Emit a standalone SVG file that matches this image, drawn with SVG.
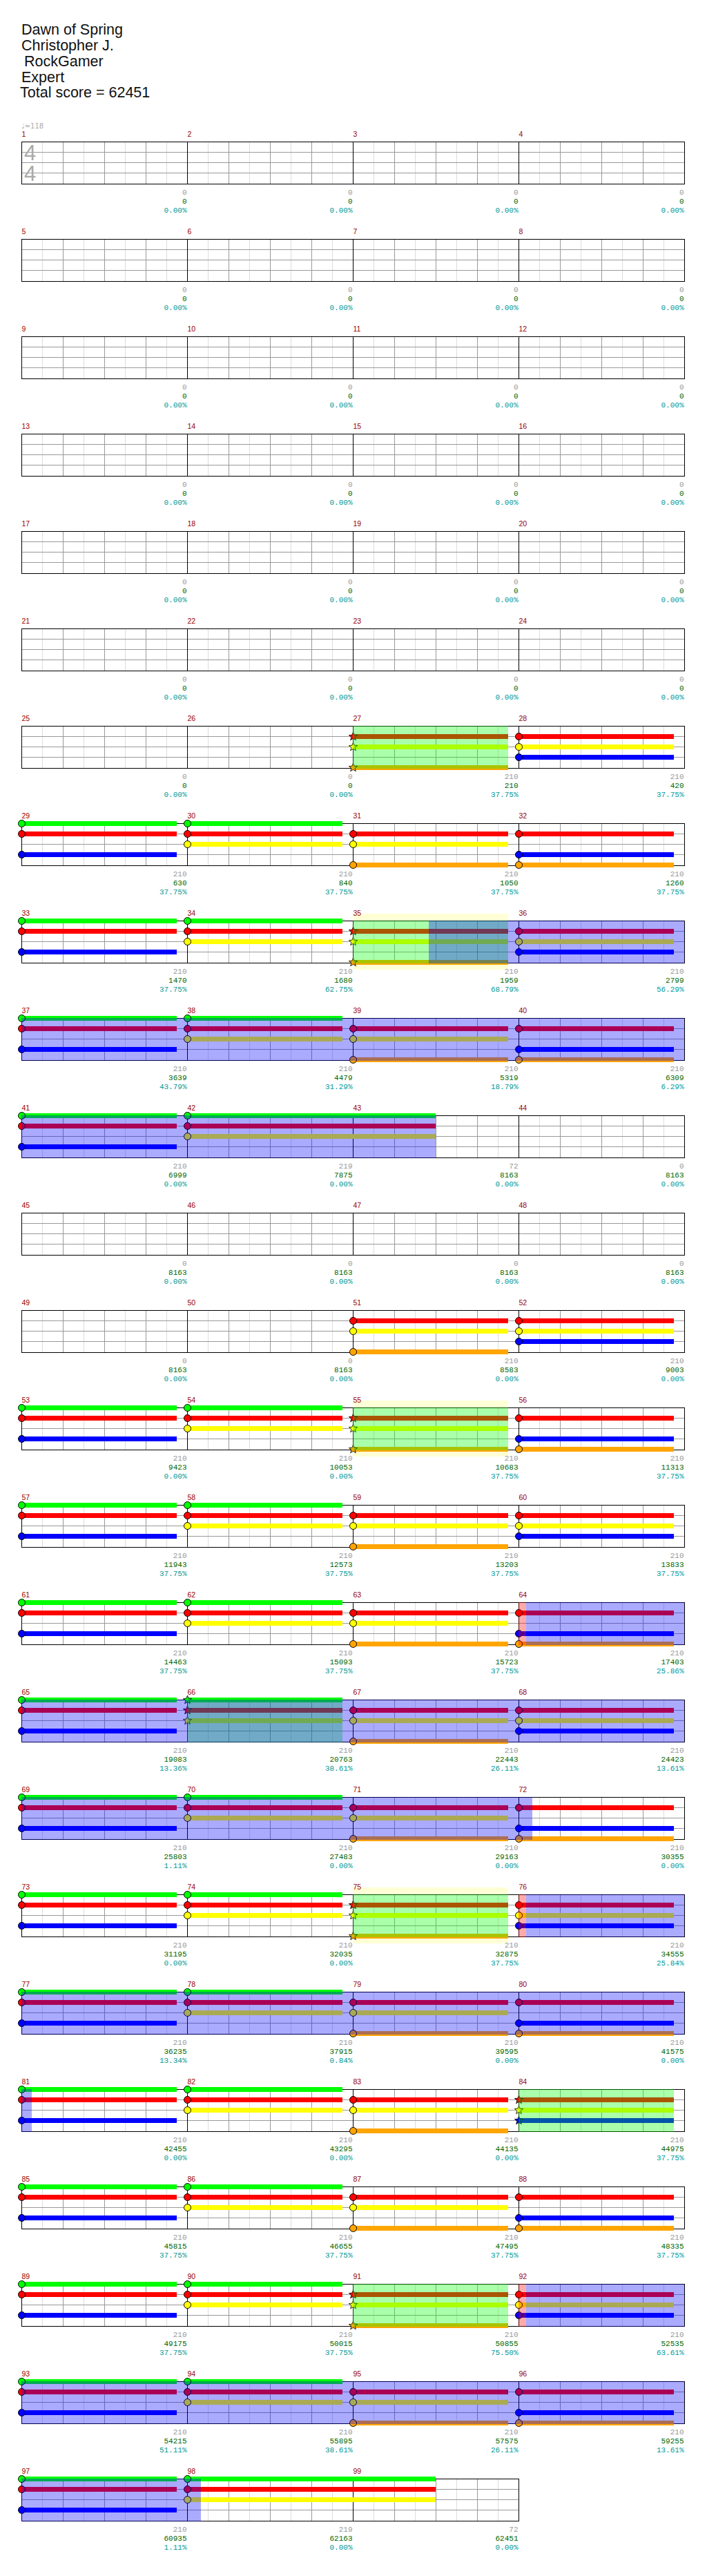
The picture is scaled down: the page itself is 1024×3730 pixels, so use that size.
<svg xmlns="http://www.w3.org/2000/svg" width="1024" height="3730" viewBox="0 0 1024 3730">
<style>
.t{font-family:"Liberation Sans",Arial,sans-serif;font-size:21.5px;fill:#111}
.n{font-family:"Liberation Sans",Arial,sans-serif;font-size:10.5px;fill:#900}
.v{font-family:"Liberation Mono","Courier New",monospace;font-size:11px;text-anchor:end}
.a{fill:#999}.b{fill:#060}.c{fill:#099}
.ts{font-family:"Liberation Sans",Arial,sans-serif;font-size:31px;fill:#aaa}
.tp{font-family:"DejaVu Sans",sans-serif;font-size:10px;fill:#aaa}
.lt{stroke:#ddd;stroke-width:1;fill:none}
.dk{stroke:#999;stroke-width:1;fill:none}
.bk{stroke:#000;stroke-width:1;fill:none}
.sp{fill:#0f0;fill-opacity:.333}
.ac{fill:#00f;fill-opacity:.333}
.pk{fill:#f00;fill-opacity:.333}
.yb{fill:#ffffd5}
.h{stroke:#000;stroke-width:1}
</style>
<defs>
<g id="m">
<rect x="0" y="0" width="240" height="62" fill="#fff"/>
<path class="lt" d="M30.5 0V61M90.5 0V61M150.5 0V61M210.5 0V61"/>
<path class="dk" d="M60.5 0V61M120.5 0V61M180.5 0V61M0 15.5H240M0 30.5H240M0 45.5H240"/>
<path class="bk" d="M0 0.5H240M0 61.5H240M0.5 0V62"/>
</g>
<g id="r4"><use href="#m" x="31"/><use href="#m" x="271"/><use href="#m" x="511"/><use href="#m" x="751"/><path class="bk" d="M991.5 0V62"/></g>
<g id="r3"><use href="#m" x="31"/><use href="#m" x="271"/><use href="#m" x="511"/><path class="bk" d="M751.5 0V62"/></g>
<polygon id="st" points="0,-6.5 1.65,-2.27 6.18,-2.01 2.66,0.87 3.82,5.26 0,2.8 -3.82,5.26 -2.66,0.87 -6.18,-2.01 -1.65,-2.27" stroke="#000" stroke-width="0.8"/>
<g id="G"><rect x="0.5" y="-3" width="224.5" height="7" fill="#0f0"/><circle class="h" cx="0.5" cy="0.5" r="5" fill="#0f0"/></g>
<g id="R"><rect x="0.5" y="12" width="224.5" height="7" fill="#f00"/><circle class="h" cx="0.5" cy="15.5" r="5" fill="#f00"/></g>
<g id="Y"><rect x="0.5" y="27" width="224.5" height="7" fill="#ff0"/><circle class="h" cx="0.5" cy="30.5" r="5" fill="#ff0"/></g>
<g id="B"><rect x="0.5" y="42" width="224.5" height="7" fill="#00f"/><circle class="h" cx="0.5" cy="45.5" r="5" fill="#00f"/></g>
<g id="O"><rect x="0.5" y="57" width="224.5" height="7" fill="#ffa500"/><circle class="h" cx="0.5" cy="60.5" r="5" fill="#ffa500"/></g>
<g id="GL"><rect x="0.5" y="-3" width="359.5" height="7" fill="#0f0"/><circle class="h" cx="0.5" cy="0.5" r="5" fill="#0f0"/></g>
<g id="RL"><rect x="0.5" y="12" width="359.5" height="7" fill="#f00"/><circle class="h" cx="0.5" cy="15.5" r="5" fill="#f00"/></g>
<g id="YL"><rect x="0.5" y="27" width="359.5" height="7" fill="#ff0"/><circle class="h" cx="0.5" cy="30.5" r="5" fill="#ff0"/></g>
<g id="SG"><rect x="0.5" y="-3" width="224.5" height="7" fill="#0f0"/><use href="#st" x="0.5" y="0.5" fill="#0f0"/></g>
<g id="SR"><rect x="0.5" y="12" width="224.5" height="7" fill="#f00"/><use href="#st" x="0.5" y="15.5" fill="#f00"/></g>
<g id="SY"><rect x="0.5" y="27" width="224.5" height="7" fill="#ff0"/><use href="#st" x="0.5" y="30.5" fill="#ff0"/></g>
<g id="SB"><rect x="0.5" y="42" width="224.5" height="7" fill="#00f"/><use href="#st" x="0.5" y="45.5" fill="#00f"/></g>
<g id="SO"><rect x="0.5" y="57" width="224.5" height="7" fill="#ffa500"/><use href="#st" x="0.5" y="60.5" fill="#ffa500"/></g>
<g id="GRB"><use href="#G"/><use href="#R"/><use href="#B"/></g>
<g id="GRY"><use href="#G"/><use href="#R"/><use href="#Y"/></g>
<g id="RYO"><use href="#R"/><use href="#Y"/><use href="#O"/></g>
<g id="RBO"><use href="#R"/><use href="#B"/><use href="#O"/></g>
<g id="RYB"><use href="#R"/><use href="#Y"/><use href="#B"/></g>
<g id="GRYL"><use href="#GL"/><use href="#RL"/><use href="#YL"/></g>
<g id="sRYO"><use href="#SR"/><use href="#SY"/><use href="#SO"/></g>
<g id="sGRY"><use href="#SG"/><use href="#SR"/><use href="#SY"/></g>
<g id="sRYB"><use href="#SR"/><use href="#SY"/><use href="#SB"/></g>
</defs>
<rect width="1024" height="3730" fill="#fff"/>
<g id="header">
<text class="t" x="31" y="50">Dawn of Spring</text>
<text class="t" x="31" y="72.5">Christopher J.</text>
<text class="t" x="35" y="96">RockGamer</text>
<text class="t" x="31" y="118.5">Expert</text>
<text class="t" x="29" y="141">Total score = 62451</text>
</g>

<g id="row1" transform="translate(0,205)">
<use href="#r4"/>
<text class="ts" x="35" y="26.7">4</text><text class="ts" x="35" y="56.7">4</text>
<text class="tp" x="31" y="-19">♩=118</text>
<text class="n" x="31.5" y="-7">1</text><text class="n" x="271.5" y="-7">2</text><text class="n" x="511.5" y="-7">3</text><text class="n" x="751.5" y="-7">4</text>
<text class="v" x="270.5" y="77"><tspan class="a">0</tspan><tspan class="b" x="270.5" dy="13">0</tspan><tspan class="c" x="270.5" dy="13">0.00%</tspan></text>
<text class="v" x="510.5" y="77"><tspan class="a">0</tspan><tspan class="b" x="510.5" dy="13">0</tspan><tspan class="c" x="510.5" dy="13">0.00%</tspan></text>
<text class="v" x="750.5" y="77"><tspan class="a">0</tspan><tspan class="b" x="750.5" dy="13">0</tspan><tspan class="c" x="750.5" dy="13">0.00%</tspan></text>
<text class="v" x="990.5" y="77"><tspan class="a">0</tspan><tspan class="b" x="990.5" dy="13">0</tspan><tspan class="c" x="990.5" dy="13">0.00%</tspan></text>
</g>

<g id="row2" transform="translate(0,346)">
<use href="#r4"/>
<text class="n" x="31.5" y="-7">5</text><text class="n" x="271.5" y="-7">6</text><text class="n" x="511.5" y="-7">7</text><text class="n" x="751.5" y="-7">8</text>
<text class="v" x="270.5" y="77"><tspan class="a">0</tspan><tspan class="b" x="270.5" dy="13">0</tspan><tspan class="c" x="270.5" dy="13">0.00%</tspan></text>
<text class="v" x="510.5" y="77"><tspan class="a">0</tspan><tspan class="b" x="510.5" dy="13">0</tspan><tspan class="c" x="510.5" dy="13">0.00%</tspan></text>
<text class="v" x="750.5" y="77"><tspan class="a">0</tspan><tspan class="b" x="750.5" dy="13">0</tspan><tspan class="c" x="750.5" dy="13">0.00%</tspan></text>
<text class="v" x="990.5" y="77"><tspan class="a">0</tspan><tspan class="b" x="990.5" dy="13">0</tspan><tspan class="c" x="990.5" dy="13">0.00%</tspan></text>
</g>

<g id="row3" transform="translate(0,487)">
<use href="#r4"/>
<text class="n" x="31.5" y="-7">9</text><text class="n" x="271.5" y="-7">10</text><text class="n" x="511.5" y="-7">11</text><text class="n" x="751.5" y="-7">12</text>
<text class="v" x="270.5" y="77"><tspan class="a">0</tspan><tspan class="b" x="270.5" dy="13">0</tspan><tspan class="c" x="270.5" dy="13">0.00%</tspan></text>
<text class="v" x="510.5" y="77"><tspan class="a">0</tspan><tspan class="b" x="510.5" dy="13">0</tspan><tspan class="c" x="510.5" dy="13">0.00%</tspan></text>
<text class="v" x="750.5" y="77"><tspan class="a">0</tspan><tspan class="b" x="750.5" dy="13">0</tspan><tspan class="c" x="750.5" dy="13">0.00%</tspan></text>
<text class="v" x="990.5" y="77"><tspan class="a">0</tspan><tspan class="b" x="990.5" dy="13">0</tspan><tspan class="c" x="990.5" dy="13">0.00%</tspan></text>
</g>

<g id="row4" transform="translate(0,628)">
<use href="#r4"/>
<text class="n" x="31.5" y="-7">13</text><text class="n" x="271.5" y="-7">14</text><text class="n" x="511.5" y="-7">15</text><text class="n" x="751.5" y="-7">16</text>
<text class="v" x="270.5" y="77"><tspan class="a">0</tspan><tspan class="b" x="270.5" dy="13">0</tspan><tspan class="c" x="270.5" dy="13">0.00%</tspan></text>
<text class="v" x="510.5" y="77"><tspan class="a">0</tspan><tspan class="b" x="510.5" dy="13">0</tspan><tspan class="c" x="510.5" dy="13">0.00%</tspan></text>
<text class="v" x="750.5" y="77"><tspan class="a">0</tspan><tspan class="b" x="750.5" dy="13">0</tspan><tspan class="c" x="750.5" dy="13">0.00%</tspan></text>
<text class="v" x="990.5" y="77"><tspan class="a">0</tspan><tspan class="b" x="990.5" dy="13">0</tspan><tspan class="c" x="990.5" dy="13">0.00%</tspan></text>
</g>

<g id="row5" transform="translate(0,769)">
<use href="#r4"/>
<text class="n" x="31.5" y="-7">17</text><text class="n" x="271.5" y="-7">18</text><text class="n" x="511.5" y="-7">19</text><text class="n" x="751.5" y="-7">20</text>
<text class="v" x="270.5" y="77"><tspan class="a">0</tspan><tspan class="b" x="270.5" dy="13">0</tspan><tspan class="c" x="270.5" dy="13">0.00%</tspan></text>
<text class="v" x="510.5" y="77"><tspan class="a">0</tspan><tspan class="b" x="510.5" dy="13">0</tspan><tspan class="c" x="510.5" dy="13">0.00%</tspan></text>
<text class="v" x="750.5" y="77"><tspan class="a">0</tspan><tspan class="b" x="750.5" dy="13">0</tspan><tspan class="c" x="750.5" dy="13">0.00%</tspan></text>
<text class="v" x="990.5" y="77"><tspan class="a">0</tspan><tspan class="b" x="990.5" dy="13">0</tspan><tspan class="c" x="990.5" dy="13">0.00%</tspan></text>
</g>

<g id="row6" transform="translate(0,910)">
<use href="#r4"/>
<text class="n" x="31.5" y="-7">21</text><text class="n" x="271.5" y="-7">22</text><text class="n" x="511.5" y="-7">23</text><text class="n" x="751.5" y="-7">24</text>
<text class="v" x="270.5" y="77"><tspan class="a">0</tspan><tspan class="b" x="270.5" dy="13">0</tspan><tspan class="c" x="270.5" dy="13">0.00%</tspan></text>
<text class="v" x="510.5" y="77"><tspan class="a">0</tspan><tspan class="b" x="510.5" dy="13">0</tspan><tspan class="c" x="510.5" dy="13">0.00%</tspan></text>
<text class="v" x="750.5" y="77"><tspan class="a">0</tspan><tspan class="b" x="750.5" dy="13">0</tspan><tspan class="c" x="750.5" dy="13">0.00%</tspan></text>
<text class="v" x="990.5" y="77"><tspan class="a">0</tspan><tspan class="b" x="990.5" dy="13">0</tspan><tspan class="c" x="990.5" dy="13">0.00%</tspan></text>
</g>

<g id="row7" transform="translate(0,1051)">
<use href="#r4"/>
<use href="#sRYO" x="511"/><use href="#RYB" x="751"/>
<rect class="sp" x="511" y="0" width="225" height="62"/>
<text class="n" x="31.5" y="-7">25</text><text class="n" x="271.5" y="-7">26</text><text class="n" x="511.5" y="-7">27</text><text class="n" x="751.5" y="-7">28</text>
<text class="v" x="270.5" y="77"><tspan class="a">0</tspan><tspan class="b" x="270.5" dy="13">0</tspan><tspan class="c" x="270.5" dy="13">0.00%</tspan></text>
<text class="v" x="510.5" y="77"><tspan class="a">0</tspan><tspan class="b" x="510.5" dy="13">0</tspan><tspan class="c" x="510.5" dy="13">0.00%</tspan></text>
<text class="v" x="750.5" y="77"><tspan class="a">210</tspan><tspan class="b" x="750.5" dy="13">210</tspan><tspan class="c" x="750.5" dy="13">37.75%</tspan></text>
<text class="v" x="990.5" y="77"><tspan class="a">210</tspan><tspan class="b" x="990.5" dy="13">420</tspan><tspan class="c" x="990.5" dy="13">37.75%</tspan></text>
</g>

<g id="row8" transform="translate(0,1192)">
<use href="#r4"/>
<use href="#GRB" x="31"/><use href="#GRY" x="271"/><use href="#RYO" x="511"/><use href="#RBO" x="751"/>
<text class="n" x="31.5" y="-7">29</text><text class="n" x="271.5" y="-7">30</text><text class="n" x="511.5" y="-7">31</text><text class="n" x="751.5" y="-7">32</text>
<text class="v" x="270.5" y="77"><tspan class="a">210</tspan><tspan class="b" x="270.5" dy="13">630</tspan><tspan class="c" x="270.5" dy="13">37.75%</tspan></text>
<text class="v" x="510.5" y="77"><tspan class="a">210</tspan><tspan class="b" x="510.5" dy="13">840</tspan><tspan class="c" x="510.5" dy="13">37.75%</tspan></text>
<text class="v" x="750.5" y="77"><tspan class="a">210</tspan><tspan class="b" x="750.5" dy="13">1050</tspan><tspan class="c" x="750.5" dy="13">37.75%</tspan></text>
<text class="v" x="990.5" y="77"><tspan class="a">210</tspan><tspan class="b" x="990.5" dy="13">1260</tspan><tspan class="c" x="990.5" dy="13">37.75%</tspan></text>
</g>

<g id="row9" transform="translate(0,1333)">
<rect class="yb" x="511" y="-10" width="225" height="81"/>
<use href="#r4"/>
<use href="#GRB" x="31"/><use href="#GRY" x="271"/><use href="#sRYO" x="511"/><use href="#RYB" x="751"/>
<rect class="sp" x="511" y="0" width="225" height="62"/>
<rect class="ac" x="621" y="0" width="370" height="62"/>
<text class="n" x="31.5" y="-7">33</text><text class="n" x="271.5" y="-7">34</text><text class="n" x="511.5" y="-7">35</text><text class="n" x="751.5" y="-7">36</text>
<text class="v" x="270.5" y="77"><tspan class="a">210</tspan><tspan class="b" x="270.5" dy="13">1470</tspan><tspan class="c" x="270.5" dy="13">37.75%</tspan></text>
<text class="v" x="510.5" y="77"><tspan class="a">210</tspan><tspan class="b" x="510.5" dy="13">1680</tspan><tspan class="c" x="510.5" dy="13">62.75%</tspan></text>
<text class="v" x="750.5" y="77"><tspan class="a">210</tspan><tspan class="b" x="750.5" dy="13">1959</tspan><tspan class="c" x="750.5" dy="13">68.79%</tspan></text>
<text class="v" x="990.5" y="77"><tspan class="a">210</tspan><tspan class="b" x="990.5" dy="13">2799</tspan><tspan class="c" x="990.5" dy="13">56.29%</tspan></text>
</g>

<g id="row10" transform="translate(0,1474)">
<use href="#r4"/>
<use href="#GRB" x="31"/><use href="#GRY" x="271"/><use href="#RYO" x="511"/><use href="#RBO" x="751"/>
<rect class="ac" x="31" y="0" width="960" height="62"/>
<text class="n" x="31.5" y="-7">37</text><text class="n" x="271.5" y="-7">38</text><text class="n" x="511.5" y="-7">39</text><text class="n" x="751.5" y="-7">40</text>
<text class="v" x="270.5" y="77"><tspan class="a">210</tspan><tspan class="b" x="270.5" dy="13">3639</tspan><tspan class="c" x="270.5" dy="13">43.79%</tspan></text>
<text class="v" x="510.5" y="77"><tspan class="a">210</tspan><tspan class="b" x="510.5" dy="13">4479</tspan><tspan class="c" x="510.5" dy="13">31.29%</tspan></text>
<text class="v" x="750.5" y="77"><tspan class="a">210</tspan><tspan class="b" x="750.5" dy="13">5319</tspan><tspan class="c" x="750.5" dy="13">18.79%</tspan></text>
<text class="v" x="990.5" y="77"><tspan class="a">210</tspan><tspan class="b" x="990.5" dy="13">6309</tspan><tspan class="c" x="990.5" dy="13">6.29%</tspan></text>
</g>

<g id="row11" transform="translate(0,1615)">
<use href="#r4"/>
<use href="#GRB" x="31"/><use href="#GRYL" x="271"/>
<rect class="ac" x="31" y="0" width="600" height="62"/>
<text class="n" x="31.5" y="-7">41</text><text class="n" x="271.5" y="-7">42</text><text class="n" x="511.5" y="-7">43</text><text class="n" x="751.5" y="-7">44</text>
<text class="v" x="270.5" y="77"><tspan class="a">210</tspan><tspan class="b" x="270.5" dy="13">6999</tspan><tspan class="c" x="270.5" dy="13">0.00%</tspan></text>
<text class="v" x="510.5" y="77"><tspan class="a">219</tspan><tspan class="b" x="510.5" dy="13">7875</tspan><tspan class="c" x="510.5" dy="13">0.00%</tspan></text>
<text class="v" x="750.5" y="77"><tspan class="a">72</tspan><tspan class="b" x="750.5" dy="13">8163</tspan><tspan class="c" x="750.5" dy="13">0.00%</tspan></text>
<text class="v" x="990.5" y="77"><tspan class="a">0</tspan><tspan class="b" x="990.5" dy="13">8163</tspan><tspan class="c" x="990.5" dy="13">0.00%</tspan></text>
</g>

<g id="row12" transform="translate(0,1756)">
<use href="#r4"/>
<text class="n" x="31.5" y="-7">45</text><text class="n" x="271.5" y="-7">46</text><text class="n" x="511.5" y="-7">47</text><text class="n" x="751.5" y="-7">48</text>
<text class="v" x="270.5" y="77"><tspan class="a">0</tspan><tspan class="b" x="270.5" dy="13">8163</tspan><tspan class="c" x="270.5" dy="13">0.00%</tspan></text>
<text class="v" x="510.5" y="77"><tspan class="a">0</tspan><tspan class="b" x="510.5" dy="13">8163</tspan><tspan class="c" x="510.5" dy="13">0.00%</tspan></text>
<text class="v" x="750.5" y="77"><tspan class="a">0</tspan><tspan class="b" x="750.5" dy="13">8163</tspan><tspan class="c" x="750.5" dy="13">0.00%</tspan></text>
<text class="v" x="990.5" y="77"><tspan class="a">0</tspan><tspan class="b" x="990.5" dy="13">8163</tspan><tspan class="c" x="990.5" dy="13">0.00%</tspan></text>
</g>

<g id="row13" transform="translate(0,1897)">
<use href="#r4"/>
<use href="#RYO" x="511"/><use href="#RYB" x="751"/>
<text class="n" x="31.5" y="-7">49</text><text class="n" x="271.5" y="-7">50</text><text class="n" x="511.5" y="-7">51</text><text class="n" x="751.5" y="-7">52</text>
<text class="v" x="270.5" y="77"><tspan class="a">0</tspan><tspan class="b" x="270.5" dy="13">8163</tspan><tspan class="c" x="270.5" dy="13">0.00%</tspan></text>
<text class="v" x="510.5" y="77"><tspan class="a">0</tspan><tspan class="b" x="510.5" dy="13">8163</tspan><tspan class="c" x="510.5" dy="13">0.00%</tspan></text>
<text class="v" x="750.5" y="77"><tspan class="a">210</tspan><tspan class="b" x="750.5" dy="13">8583</tspan><tspan class="c" x="750.5" dy="13">0.00%</tspan></text>
<text class="v" x="990.5" y="77"><tspan class="a">210</tspan><tspan class="b" x="990.5" dy="13">9003</tspan><tspan class="c" x="990.5" dy="13">0.00%</tspan></text>
</g>

<g id="row14" transform="translate(0,2038)">
<rect class="yb" x="511" y="-10" width="225" height="81"/>
<use href="#r4"/>
<use href="#GRB" x="31"/><use href="#GRY" x="271"/><use href="#sRYO" x="511"/><use href="#RBO" x="751"/>
<rect class="sp" x="511" y="0" width="225" height="62"/>
<text class="n" x="31.5" y="-7">53</text><text class="n" x="271.5" y="-7">54</text><text class="n" x="511.5" y="-7">55</text><text class="n" x="751.5" y="-7">56</text>
<text class="v" x="270.5" y="77"><tspan class="a">210</tspan><tspan class="b" x="270.5" dy="13">9423</tspan><tspan class="c" x="270.5" dy="13">0.00%</tspan></text>
<text class="v" x="510.5" y="77"><tspan class="a">210</tspan><tspan class="b" x="510.5" dy="13">10053</tspan><tspan class="c" x="510.5" dy="13">0.00%</tspan></text>
<text class="v" x="750.5" y="77"><tspan class="a">210</tspan><tspan class="b" x="750.5" dy="13">10683</tspan><tspan class="c" x="750.5" dy="13">37.75%</tspan></text>
<text class="v" x="990.5" y="77"><tspan class="a">210</tspan><tspan class="b" x="990.5" dy="13">11313</tspan><tspan class="c" x="990.5" dy="13">37.75%</tspan></text>
</g>

<g id="row15" transform="translate(0,2179)">
<use href="#r4"/>
<use href="#GRB" x="31"/><use href="#GRY" x="271"/><use href="#RYO" x="511"/><use href="#RYB" x="751"/>
<text class="n" x="31.5" y="-7">57</text><text class="n" x="271.5" y="-7">58</text><text class="n" x="511.5" y="-7">59</text><text class="n" x="751.5" y="-7">60</text>
<text class="v" x="270.5" y="77"><tspan class="a">210</tspan><tspan class="b" x="270.5" dy="13">11943</tspan><tspan class="c" x="270.5" dy="13">37.75%</tspan></text>
<text class="v" x="510.5" y="77"><tspan class="a">210</tspan><tspan class="b" x="510.5" dy="13">12573</tspan><tspan class="c" x="510.5" dy="13">37.75%</tspan></text>
<text class="v" x="750.5" y="77"><tspan class="a">210</tspan><tspan class="b" x="750.5" dy="13">13203</tspan><tspan class="c" x="750.5" dy="13">37.75%</tspan></text>
<text class="v" x="990.5" y="77"><tspan class="a">210</tspan><tspan class="b" x="990.5" dy="13">13833</tspan><tspan class="c" x="990.5" dy="13">37.75%</tspan></text>
</g>

<g id="row16" transform="translate(0,2320)">
<use href="#r4"/>
<use href="#GRB" x="31"/><use href="#GRY" x="271"/><use href="#RYO" x="511"/><use href="#RBO" x="751"/>
<rect class="pk" x="751" y="0" width="11" height="62"/>
<rect class="ac" x="762" y="0" width="229" height="62"/>
<text class="n" x="31.5" y="-7">61</text><text class="n" x="271.5" y="-7">62</text><text class="n" x="511.5" y="-7">63</text><text class="n" x="751.5" y="-7">64</text>
<text class="v" x="270.5" y="77"><tspan class="a">210</tspan><tspan class="b" x="270.5" dy="13">14463</tspan><tspan class="c" x="270.5" dy="13">37.75%</tspan></text>
<text class="v" x="510.5" y="77"><tspan class="a">210</tspan><tspan class="b" x="510.5" dy="13">15093</tspan><tspan class="c" x="510.5" dy="13">37.75%</tspan></text>
<text class="v" x="750.5" y="77"><tspan class="a">210</tspan><tspan class="b" x="750.5" dy="13">15723</tspan><tspan class="c" x="750.5" dy="13">37.75%</tspan></text>
<text class="v" x="990.5" y="77"><tspan class="a">210</tspan><tspan class="b" x="990.5" dy="13">17403</tspan><tspan class="c" x="990.5" dy="13">25.86%</tspan></text>
</g>

<g id="row17" transform="translate(0,2461)">
<use href="#r4"/>
<use href="#GRB" x="31"/><use href="#sGRY" x="271"/><use href="#RYO" x="511"/><use href="#RYB" x="751"/>
<rect class="sp" x="271" y="0" width="225" height="62"/>
<rect class="ac" x="31" y="0" width="960" height="62"/>
<text class="n" x="31.5" y="-7">65</text><text class="n" x="271.5" y="-7">66</text><text class="n" x="511.5" y="-7">67</text><text class="n" x="751.5" y="-7">68</text>
<text class="v" x="270.5" y="77"><tspan class="a">210</tspan><tspan class="b" x="270.5" dy="13">19083</tspan><tspan class="c" x="270.5" dy="13">13.36%</tspan></text>
<text class="v" x="510.5" y="77"><tspan class="a">210</tspan><tspan class="b" x="510.5" dy="13">20763</tspan><tspan class="c" x="510.5" dy="13">38.61%</tspan></text>
<text class="v" x="750.5" y="77"><tspan class="a">210</tspan><tspan class="b" x="750.5" dy="13">22443</tspan><tspan class="c" x="750.5" dy="13">26.11%</tspan></text>
<text class="v" x="990.5" y="77"><tspan class="a">210</tspan><tspan class="b" x="990.5" dy="13">24423</tspan><tspan class="c" x="990.5" dy="13">13.61%</tspan></text>
</g>

<g id="row18" transform="translate(0,2602)">
<use href="#r4"/>
<use href="#GRB" x="31"/><use href="#GRY" x="271"/><use href="#RYO" x="511"/><use href="#RBO" x="751"/>
<rect class="ac" x="31" y="0" width="740" height="62"/>
<text class="n" x="31.5" y="-7">69</text><text class="n" x="271.5" y="-7">70</text><text class="n" x="511.5" y="-7">71</text><text class="n" x="751.5" y="-7">72</text>
<text class="v" x="270.5" y="77"><tspan class="a">210</tspan><tspan class="b" x="270.5" dy="13">25803</tspan><tspan class="c" x="270.5" dy="13">1.11%</tspan></text>
<text class="v" x="510.5" y="77"><tspan class="a">210</tspan><tspan class="b" x="510.5" dy="13">27483</tspan><tspan class="c" x="510.5" dy="13">0.00%</tspan></text>
<text class="v" x="750.5" y="77"><tspan class="a">210</tspan><tspan class="b" x="750.5" dy="13">29163</tspan><tspan class="c" x="750.5" dy="13">0.00%</tspan></text>
<text class="v" x="990.5" y="77"><tspan class="a">210</tspan><tspan class="b" x="990.5" dy="13">30355</tspan><tspan class="c" x="990.5" dy="13">0.00%</tspan></text>
</g>

<g id="row19" transform="translate(0,2743)">
<rect class="yb" x="511" y="-10" width="225" height="81"/>
<use href="#r4"/>
<use href="#GRB" x="31"/><use href="#GRY" x="271"/><use href="#sRYO" x="511"/><use href="#RYB" x="751"/>
<rect class="sp" x="511" y="0" width="225" height="62"/>
<rect class="pk" x="751" y="0" width="11" height="62"/>
<rect class="ac" x="762" y="0" width="229" height="62"/>
<text class="n" x="31.5" y="-7">73</text><text class="n" x="271.5" y="-7">74</text><text class="n" x="511.5" y="-7">75</text><text class="n" x="751.5" y="-7">76</text>
<text class="v" x="270.5" y="77"><tspan class="a">210</tspan><tspan class="b" x="270.5" dy="13">31195</tspan><tspan class="c" x="270.5" dy="13">0.00%</tspan></text>
<text class="v" x="510.5" y="77"><tspan class="a">210</tspan><tspan class="b" x="510.5" dy="13">32035</tspan><tspan class="c" x="510.5" dy="13">0.00%</tspan></text>
<text class="v" x="750.5" y="77"><tspan class="a">210</tspan><tspan class="b" x="750.5" dy="13">32875</tspan><tspan class="c" x="750.5" dy="13">37.75%</tspan></text>
<text class="v" x="990.5" y="77"><tspan class="a">210</tspan><tspan class="b" x="990.5" dy="13">34555</tspan><tspan class="c" x="990.5" dy="13">25.84%</tspan></text>
</g>

<g id="row20" transform="translate(0,2884)">
<use href="#r4"/>
<use href="#GRB" x="31"/><use href="#GRY" x="271"/><use href="#RYO" x="511"/><use href="#RBO" x="751"/>
<rect class="ac" x="31" y="0" width="960" height="62"/>
<text class="n" x="31.5" y="-7">77</text><text class="n" x="271.5" y="-7">78</text><text class="n" x="511.5" y="-7">79</text><text class="n" x="751.5" y="-7">80</text>
<text class="v" x="270.5" y="77"><tspan class="a">210</tspan><tspan class="b" x="270.5" dy="13">36235</tspan><tspan class="c" x="270.5" dy="13">13.34%</tspan></text>
<text class="v" x="510.5" y="77"><tspan class="a">210</tspan><tspan class="b" x="510.5" dy="13">37915</tspan><tspan class="c" x="510.5" dy="13">0.84%</tspan></text>
<text class="v" x="750.5" y="77"><tspan class="a">210</tspan><tspan class="b" x="750.5" dy="13">39595</tspan><tspan class="c" x="750.5" dy="13">0.00%</tspan></text>
<text class="v" x="990.5" y="77"><tspan class="a">210</tspan><tspan class="b" x="990.5" dy="13">41575</tspan><tspan class="c" x="990.5" dy="13">0.00%</tspan></text>
</g>

<g id="row21" transform="translate(0,3025)">
<use href="#r4"/>
<use href="#GRB" x="31"/><use href="#GRY" x="271"/><use href="#RYO" x="511"/><use href="#sRYB" x="751"/>
<rect class="ac" x="31" y="0" width="15" height="62"/>
<rect class="sp" x="751" y="0" width="225" height="62"/>
<text class="n" x="31.5" y="-7">81</text><text class="n" x="271.5" y="-7">82</text><text class="n" x="511.5" y="-7">83</text><text class="n" x="751.5" y="-7">84</text>
<text class="v" x="270.5" y="77"><tspan class="a">210</tspan><tspan class="b" x="270.5" dy="13">42455</tspan><tspan class="c" x="270.5" dy="13">0.00%</tspan></text>
<text class="v" x="510.5" y="77"><tspan class="a">210</tspan><tspan class="b" x="510.5" dy="13">43295</tspan><tspan class="c" x="510.5" dy="13">0.00%</tspan></text>
<text class="v" x="750.5" y="77"><tspan class="a">210</tspan><tspan class="b" x="750.5" dy="13">44135</tspan><tspan class="c" x="750.5" dy="13">0.00%</tspan></text>
<text class="v" x="990.5" y="77"><tspan class="a">210</tspan><tspan class="b" x="990.5" dy="13">44975</tspan><tspan class="c" x="990.5" dy="13">37.75%</tspan></text>
</g>

<g id="row22" transform="translate(0,3166)">
<use href="#r4"/>
<use href="#GRB" x="31"/><use href="#GRY" x="271"/><use href="#RYO" x="511"/><use href="#RBO" x="751"/>
<text class="n" x="31.5" y="-7">85</text><text class="n" x="271.5" y="-7">86</text><text class="n" x="511.5" y="-7">87</text><text class="n" x="751.5" y="-7">88</text>
<text class="v" x="270.5" y="77"><tspan class="a">210</tspan><tspan class="b" x="270.5" dy="13">45815</tspan><tspan class="c" x="270.5" dy="13">37.75%</tspan></text>
<text class="v" x="510.5" y="77"><tspan class="a">210</tspan><tspan class="b" x="510.5" dy="13">46655</tspan><tspan class="c" x="510.5" dy="13">37.75%</tspan></text>
<text class="v" x="750.5" y="77"><tspan class="a">210</tspan><tspan class="b" x="750.5" dy="13">47495</tspan><tspan class="c" x="750.5" dy="13">37.75%</tspan></text>
<text class="v" x="990.5" y="77"><tspan class="a">210</tspan><tspan class="b" x="990.5" dy="13">48335</tspan><tspan class="c" x="990.5" dy="13">37.75%</tspan></text>
</g>

<g id="row23" transform="translate(0,3307)">
<use href="#r4"/>
<use href="#GRB" x="31"/><use href="#GRY" x="271"/><use href="#sRYO" x="511"/><use href="#RYB" x="751"/>
<rect class="sp" x="511" y="0" width="225" height="62"/>
<rect class="pk" x="751" y="0" width="11" height="62"/>
<rect class="ac" x="762" y="0" width="229" height="62"/>
<text class="n" x="31.5" y="-7">89</text><text class="n" x="271.5" y="-7">90</text><text class="n" x="511.5" y="-7">91</text><text class="n" x="751.5" y="-7">92</text>
<text class="v" x="270.5" y="77"><tspan class="a">210</tspan><tspan class="b" x="270.5" dy="13">49175</tspan><tspan class="c" x="270.5" dy="13">37.75%</tspan></text>
<text class="v" x="510.5" y="77"><tspan class="a">210</tspan><tspan class="b" x="510.5" dy="13">50015</tspan><tspan class="c" x="510.5" dy="13">37.75%</tspan></text>
<text class="v" x="750.5" y="77"><tspan class="a">210</tspan><tspan class="b" x="750.5" dy="13">50855</tspan><tspan class="c" x="750.5" dy="13">75.50%</tspan></text>
<text class="v" x="990.5" y="77"><tspan class="a">210</tspan><tspan class="b" x="990.5" dy="13">52535</tspan><tspan class="c" x="990.5" dy="13">63.61%</tspan></text>
</g>

<g id="row24" transform="translate(0,3448)">
<use href="#r4"/>
<use href="#GRB" x="31"/><use href="#GRY" x="271"/><use href="#RYO" x="511"/><use href="#RBO" x="751"/>
<rect class="ac" x="31" y="0" width="960" height="62"/>
<text class="n" x="31.5" y="-7">93</text><text class="n" x="271.5" y="-7">94</text><text class="n" x="511.5" y="-7">95</text><text class="n" x="751.5" y="-7">96</text>
<text class="v" x="270.5" y="77"><tspan class="a">210</tspan><tspan class="b" x="270.5" dy="13">54215</tspan><tspan class="c" x="270.5" dy="13">51.11%</tspan></text>
<text class="v" x="510.5" y="77"><tspan class="a">210</tspan><tspan class="b" x="510.5" dy="13">55895</tspan><tspan class="c" x="510.5" dy="13">38.61%</tspan></text>
<text class="v" x="750.5" y="77"><tspan class="a">210</tspan><tspan class="b" x="750.5" dy="13">57575</tspan><tspan class="c" x="750.5" dy="13">26.11%</tspan></text>
<text class="v" x="990.5" y="77"><tspan class="a">210</tspan><tspan class="b" x="990.5" dy="13">59255</tspan><tspan class="c" x="990.5" dy="13">13.61%</tspan></text>
</g>

<g id="row25" transform="translate(0,3589)">
<use href="#r3"/>
<use href="#GRB" x="31"/><use href="#GRYL" x="271"/>
<rect class="ac" x="31" y="0" width="260" height="62"/>
<text class="n" x="31.5" y="-7">97</text><text class="n" x="271.5" y="-7">98</text><text class="n" x="511.5" y="-7">99</text>
<text class="v" x="270.5" y="77"><tspan class="a">210</tspan><tspan class="b" x="270.5" dy="13">60935</tspan><tspan class="c" x="270.5" dy="13">1.11%</tspan></text>
<text class="v" x="510.5" y="77"><tspan class="a">219</tspan><tspan class="b" x="510.5" dy="13">62163</tspan><tspan class="c" x="510.5" dy="13">0.00%</tspan></text>
<text class="v" x="750.5" y="77"><tspan class="a">72</tspan><tspan class="b" x="750.5" dy="13">62451</tspan><tspan class="c" x="750.5" dy="13">0.00%</tspan></text>
</g>
</svg>
